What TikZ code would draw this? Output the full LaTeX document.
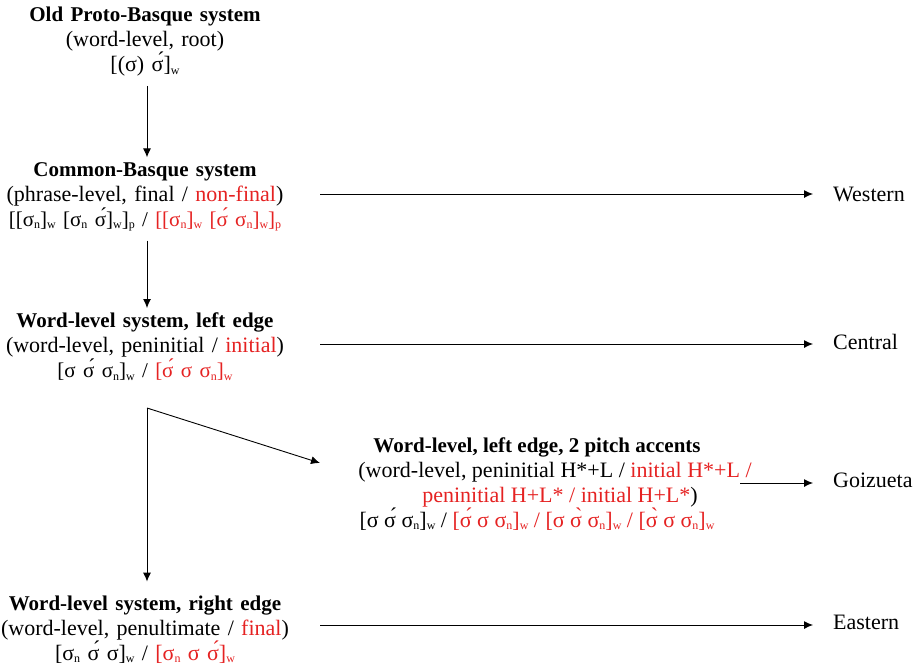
\documentclass[tikz,border=0pt]{standalone}
\usepackage{fontspec}
\setmainfont{Liberation Serif}
\usetikzlibrary{arrows.meta}
\definecolor{accred}{RGB}{229,34,34}
\newcommand{\rd}[1]{\textcolor{accred}{#1}}
\newcommand{\sbs}[1]{\raisebox{-2.5pt}{\fontsize{12}{12}\selectfont #1}}
\newcommand{\ttl}[1]{{\fontsize{21}{25}\selectfont\bfseries #1}}
\newcommand{\narrow}{\fontsize{21}{25}\selectfont}
\begin{document}
\begin{tikzpicture}[x=1pt,y=-1pt,
  block/.style={align=center, inner sep=0pt, font=\fontsize{22}{25}\selectfont},
  leftblock/.style={block, text width=300pt},
  lbl/.style={anchor=west, inner sep=0pt, font=\fontsize{22}{25}\selectfont},
  conn/.style={-{Latex[length=9pt,width=8pt]}, line width=0.9pt},
]
\useasboundingbox (0,0) rectangle (918,667);
\node[leftblock] (n1) at (145,42) {\ttl{Old Proto-Basque system}\\(word-level, root)\\{[}(σ) σ́]\sbs{w}};
\node[leftblock] (n2) at (145,197) {\ttl{Common-Basque system}\\(phrase-level, final / \rd{non-final})\\{\narrow{[}[σ\sbs{n}]\sbs{w} [σ\sbs{n} σ́]\sbs{w}]\sbs{p} / \rd{[[σ\sbs{n}]\sbs{w} [σ́ σ\sbs{n}]\sbs{w}]\sbs{p}}}};
\node[leftblock] (n3) at (145,347) {\ttl{Word-level system, left edge}\\(word-level, peninitial / \rd{initial})\\{\narrow{[}σ σ́ σ\sbs{n}]\sbs{w} / \rd{[σ́ σ σ\sbs{n}]\sbs{w}}}};
\node[block] (n4) at (537,484) {\ttl{Word-level, left edge, 2 pitch accents}\\\hspace*{36pt}(word-level, peninitial H*+L / \rd{initial H*+L /}\\\hspace*{46pt}\rd{peninitial H+L* / initial H+L*})\\{[}σ σ́ σ\sbs{n}]\sbs{w} / \rd{[σ́ σ σ\sbs{n}]\sbs{w} / [σ σ̀ σ\sbs{n}]\sbs{w} / [σ̀ σ σ\sbs{n}]\sbs{w}}};
\node[leftblock] (n5) at (145,629.5) {\ttl{Word-level system, right edge}\\(word-level, penultimate / \rd{final})\\{[}σ\sbs{n} σ́ σ]\sbs{w} / \rd{[σ\sbs{n} σ σ́]\sbs{w}}};
\node[lbl] (west) at (833,194) {Western};
\node[lbl] (cent) at (833,342) {Central};
\node[lbl] (goiz) at (833,480) {Goizueta};
\node[lbl] (east) at (833,622) {Eastern};
\coordinate (fork) at (147,408);
\coordinate (n4in) at (320,463);
\coordinate (n4out) at (740,483);
\draw[conn, shorten <=9pt, shorten >=5pt] ([xshift=2pt]n1.south) -- ([xshift=2pt]n2.north);
\draw[conn, shorten <=9pt, shorten >=5pt] ([xshift=2pt]n2.south) -- ([xshift=2pt]n3.north);
\draw[conn, shorten >=20pt] ([xshift=25pt]n2.east |- west.west) -- (west.west);
\draw[conn, shorten >=20pt] ([xshift=25pt,yshift=-2pt]n3.east |- cent.west) -- ([yshift=-2pt]cent.west);
\draw[conn, shorten >=20pt] ([xshift=25pt,yshift=-3pt]n5.east |- east.west) -- ([yshift=-3pt]east.west);
\draw[conn, shorten >=20pt] (n4out) -- (n4out -| goiz.west);
\draw[conn] (fork) -- (n4in);
\draw[conn, shorten >=14pt] (fork) -- (fork |- n5.north);
\end{tikzpicture}
\end{document}
